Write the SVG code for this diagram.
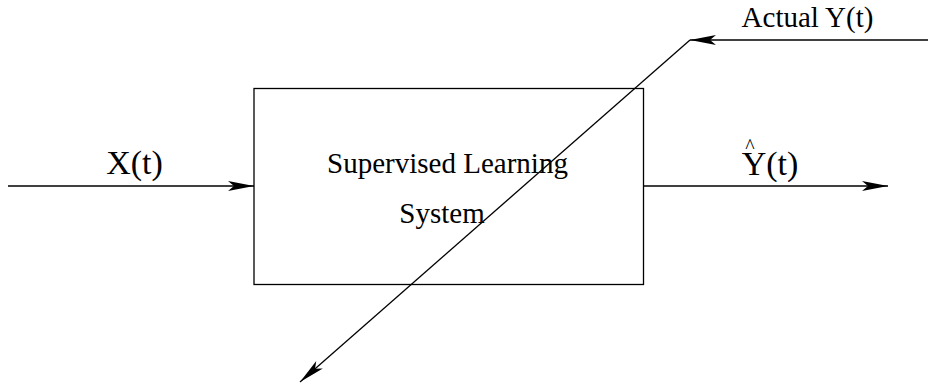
<svg xmlns="http://www.w3.org/2000/svg" width="928" height="387" viewBox="0 0 928 387">
<style>
.ln{stroke:#000;stroke-width:1.3;fill:none}
text{font-family:"Liberation Serif","Times New Roman",serif;fill:#000}
.lbl{font-size:29px}
.big{font-size:34px}
</style>
<defs>
<marker id="ah" markerUnits="userSpaceOnUse" markerWidth="30" markerHeight="14" refX="26" refY="7" orient="auto">
<path d="M0,2 L26,7 L0,12 L6,7 Z" fill="#000"/>
</marker>
</defs>
<rect width="928" height="387" fill="#fff"/>
<g id="system">
<rect x="254" y="88.5" width="389.5" height="196" class="ln"/>
<text x="447.5" y="173" class="lbl" text-anchor="middle">Supervised Learning</text>
<text x="442" y="223" class="lbl" text-anchor="middle">System</text>
</g>
<g id="input-label"><text x="134.5" y="174" class="big" text-anchor="middle">X(t)</text></g>
<g id="output-label"><text x="770" y="175" class="big" text-anchor="middle">Y(t)</text><text x="750" y="153" font-size="20" text-anchor="middle">^</text></g>
<g id="actual-label"><text x="807.5" y="27" class="lbl" text-anchor="middle">Actual Y(t)</text></g>
<g id="connectors">
<line x1="8" y1="186" x2="254" y2="186" class="ln" marker-end="url(#ah)"/>
<line x1="643.5" y1="186" x2="888" y2="186" class="ln" marker-end="url(#ah)"/>
<polyline points="928,40 690,40" class="ln" marker-end="url(#ah)"/>
<line x1="690" y1="40" x2="300" y2="382" class="ln" marker-end="url(#ah)"/>
</g>
</svg>
